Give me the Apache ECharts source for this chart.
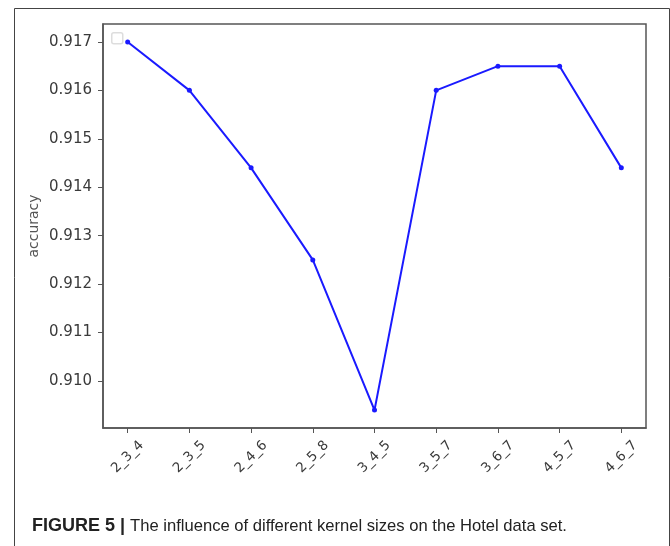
<!DOCTYPE html>
<html>
<head>
<meta charset="utf-8">
<script src="https://cdn.jsdelivr.net/npm/echarts@6/dist/echarts.min.js"></script>
<style>
html,body{margin:0;padding:0;background:#fff;}
#chart{width:670px;height:546px;}
</style>
</head>
<body>
<div id="chart"></div>
<script>
const categories = ['2_3_4','2_3_5','2_4_6','2_5_8','3_4_5','3_5_7','3_6_7','4_5_7','4_6_7'];
const accuracy = [0.9170, 0.9160, 0.9144, 0.9125, 0.9094, 0.9160, 0.9165, 0.9165, 0.9144];
const yTicks = [0.910, 0.911, 0.912, 0.913, 0.914, 0.915, 0.916, 0.917];
const xTicks = [0, 1, 2, 3, 4, 5, 6, 7, 8];

const chart = echarts.init(document.getElementById('chart'));
const axisColor = '#555';
chart.setOption({
  animation: false,
  backgroundColor: '#fff',
  title: {
    left: 27, top: 512,
    text: '{b|FIGURE 5 |} {r|The influence of different kernel sizes on the Hotel data set.}',
    textStyle: {
      rich: {
        b: {fontFamily: 'Liberation Sans', fontWeight: 'bold', fontSize: 18, color: '#222'},
        r: {fontFamily: '"Liberation Sans Narrow", "Liberation Sans", sans-serif', fontWeight: 'normal', fontSize: 16.6, color: '#222'}
      }
    }
  },
  grid: {left: 103, right: 24, top: 24, bottom: 118, show: true, borderColor: axisColor, borderWidth: 1.5, backgroundColor: '#fff'},
  xAxis: {
    type: 'value', min: -0.4, max: 8.4,
    axisLine: {show: true, onZero: false, lineStyle: {color: axisColor, width: 1.5}},
    axisTick: {show: true, customValues: xTicks, length: 5, lineStyle: {color: axisColor}},
    splitLine: {show: false},
    axisLabel: {
      customValues: xTicks, rotate: 45, align: 'center', verticalAlign: 'middle', margin: 29,
      fontFamily: 'DejaVu Sans', fontSize: 13.5, color: '#3a3a3a',
      formatter: v => categories[Math.round(v)]
    }
  },
  yAxis: {
    type: 'value', min: 0.90903, max: 0.91737,
    name: 'accuracy', nameLocation: 'middle', nameGap: 62, nameRotate: 90, nameMoveOverlap: false,
    nameTextStyle: {fontFamily: 'DejaVu Sans', fontSize: 14, color: '#555'},
    axisLine: {show: true, onZero: false, lineStyle: {color: axisColor, width: 1.5}},
    axisTick: {show: true, customValues: yTicks, length: 5, lineStyle: {color: axisColor}},
    splitLine: {show: false},
    axisLabel: {
      customValues: yTicks, margin: 11,
      fontFamily: 'DejaVu Sans', fontSize: 15, color: '#3a3a3a',
      formatter: v => v.toFixed(3)
    }
  },
  series: [{
    type: 'line',
    data: accuracy.map((v, i) => [i, v]),
    symbol: 'circle', symbolSize: 5,
    lineStyle: {color: '#1a1aff', width: 2},
    itemStyle: {color: '#1a1aff'}
  }],
  graphic: [
    {type: 'rect', left: 12, top: 6, shape: {width: 655, height: 560}, style: {fill: 'none', stroke: '#444', lineWidth: 1}, silent: true},
    {type: 'rect', left: 111, top: 32, shape: {width: 11, height: 11, r: 2}, style: {fill: '#fff', stroke: '#ddd', lineWidth: 1.5}, silent: true}
  ]
});
</script>
</body>
</html>
